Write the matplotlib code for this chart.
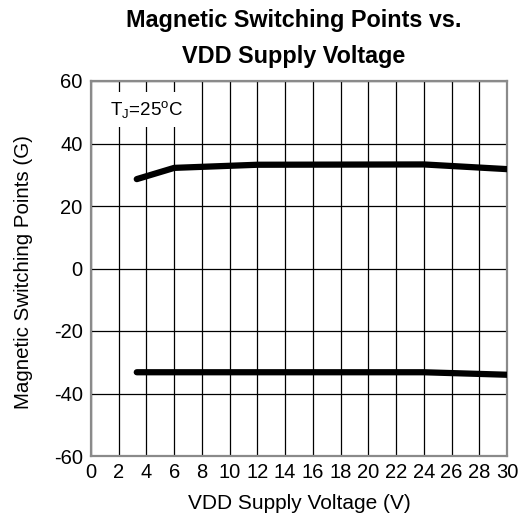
import numpy as np
import matplotlib
matplotlib.use("Agg")
import matplotlib.pyplot as plt

plt.rcParams["font.family"] = ["Liberation Sans", "DejaVu Sans"]
plt.rcParams["mathtext.fontset"] = "custom"
plt.rcParams["mathtext.rm"] = "Liberation Sans"
plt.rcParams["mathtext.it"] = "Liberation Sans"
plt.rcParams["axes.unicode_minus"] = False

# operate point (upper curve) and release point (lower curve)
vdd_op = [3.3, 6, 12, 24, 30]
bop = [28.6, 32.2, 33.2, 33.3, 31.8]
vdd_rp = [3.3, 12, 24, 30]
brp = [-33.2, -33.2, -33.2, -34.0]

xticks = np.arange(0, 31, 2)
yticks = np.arange(-60, 61, 20)

fig = plt.figure(figsize=(5.26, 5.19), dpi=100)
ax = fig.add_axes([91 / 526, 1 - 456 / 519, 416 / 526, 375 / 519])

ax.plot(vdd_op, bop, color="black", lw=4.5, solid_capstyle="round", zorder=3)
ax.plot(vdd_rp, brp, color="black", lw=4.5, solid_capstyle="round", zorder=3)

ax.set_xlim(0, 30)
ax.set_ylim(-60, 60)
ax.set_xticks(xticks)
ax.set_yticks(yticks)
ax.tick_params(length=0, labelsize=14.5)
ax.tick_params(axis="y", pad=6)
ax.tick_params(axis="x", pad=5)
ax.grid(True, color="black", lw=0.9)
ax.set_axisbelow(True)
for s in ax.spines.values():
    s.set_color("#8a8a8a")
    s.set_linewidth(1.6)

ax.set_xlabel("VDD Supply Voltage (V)", fontsize=15, labelpad=9)
ax.set_ylabel("Magnetic Switching Points (G)", fontsize=14.8, va="center")
ax.yaxis.set_label_coords(-67 / 416, 0.49)

ax.text(1.35, 51, "T$_J$=25$^o$C", fontsize=13.5, va="center", ha="left",
        bbox=dict(facecolor="white", edgecolor="none", pad=5), zorder=2)

fig.text(294 / 526, 1 - 20 / 519, "Magnetic Switching Points vs.",
         ha="center", va="center", fontsize=16.8, fontweight="bold")
fig.text(294 / 526, 1 - 57 / 519, "VDD Supply Voltage",
         ha="center", va="center", fontsize=16.8, fontweight="bold")

fig.savefig("out.png", dpi=100)
